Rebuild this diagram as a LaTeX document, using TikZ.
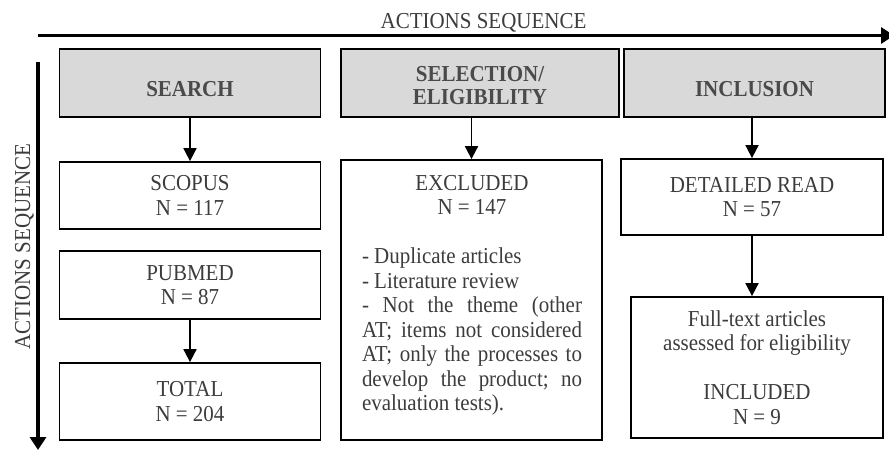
\documentclass[tikz,border=0pt]{standalone}
\usepackage{fontspec}
\setmainfont{Liberation Serif}[FakeStretch=0.92]
\usetikzlibrary{arrows.meta}
\definecolor{txt}{HTML}{3C3C3C}
\definecolor{hdrtxt}{HTML}{4A4A4A}
\definecolor{hdrfill}{HTML}{D9D9D9}
\begin{document}
\begin{tikzpicture}[x=1pt,y=-1pt,
  box/.style={draw=black, line width=1.8pt, inner sep=0pt, text=txt, align=center,
    font=\fontsize{22.8}{24.5}\selectfont},
  hdr/.style={draw=black, line width=1.8pt, fill=hdrfill, inner sep=0pt, minimum height=68pt},
  hdrlabel/.style={text=hdrtxt, align=center, inner sep=0pt, font=\fontsize{22.8}{23}\selectfont\bfseries},
  plain/.style={text=txt, inner sep=0pt, font=\fontsize{22.8}{24}\selectfont},
  flow/.style={-{Triangle[width=13pt,length=13pt]}, line width=1.8pt},
  axis/.style={-{Triangle[width=16pt,length=13pt]}, line width=3.5pt}]
\useasboundingbox (0,0) rectangle (889,451);

% axes
\coordinate (hstart) at (38,35.5);
\coordinate (hend) at (894,35.5);
\coordinate (vstart) at (38,62);
\coordinate (vend) at (38,450);
\draw[axis] (hstart) -- (hend);
\draw[axis] (vstart) -- (vend);
\node[plain, anchor=base] (htitle) at (483.5,28) {ACTIONS SEQUENCE};
\node[plain, rotate=90, anchor=base] (vtitle) at (30,246.5) {ACTIONS SEQUENCE};

% headers
\node[hdr, minimum width=261pt] (search) at (190,83) {};
\node[hdr, minimum width=278pt] (sel) at (480,83) {};
\node[hdr, minimum width=261pt] (incl) at (754.5,83) {};
\node[hdrlabel, anchor=base] (searchtxt) at (190,96) {SEARCH};
\node[hdrlabel] (seltxt) at (480,86) {SELECTION/\\ELIGIBILITY};
\node[hdrlabel, anchor=base] (incltxt) at (754.5,96) {INCLUSION};

% search column
\node[box, minimum width=261pt, minimum height=67pt] (scopus) at (190,195.5) {SCOPUS\\N = 117};
\node[box, minimum width=261pt, minimum height=68pt] (pubmed) at (190,285) {PUBMED\\N = 87};
\node[box, minimum width=261pt, minimum height=77pt] (total) at (190,401.5) {TOTAL\\N = 204};

% selection column
\node[box, minimum width=261pt, minimum height=280pt] (excl) at (471.5,300) {};
\node[text=txt, inner sep=0pt, align=center, anchor=north,
  font=\fontsize{22.8}{24.5}\selectfont] (excltxt) at (472,175)
  {\makebox[220pt]{EXCLUDED}\\\makebox[220pt]{N = 147}\\[24.5pt]
   \makebox[220pt][l]{- Duplicate articles}\\
   \makebox[220pt][l]{- Literature review}\\
   \makebox[220pt]{-\hfill Not\hfill the\hfill theme\hfill (other}\\
   \makebox[220pt]{AT;\hfill items\hfill not\hfill considered}\\
   \makebox[220pt]{AT;\hfill only\hfill the\hfill processes\hfill to}\\
   \makebox[220pt]{develop\hfill the\hfill product;\hfill no}\\
   \makebox[220pt][l]{evaluation tests).}};

% inclusion column
\node[box, minimum width=262pt, minimum height=76pt] (det) at (752,197) {DETAILED READ\\N = 57};
\node[box, minimum width=252pt, minimum height=141pt] (full) at (757,367.5)
  {Full-text articles\\assessed for eligibility\\[24.5pt]INCLUDED\\N = 9};

% connectors
\draw[flow] (search.south) -- (scopus.north);
\draw[flow] (pubmed.south) -- (total.north);
\draw[flow] (excl.north |- sel.south) -- (excl.north);
\draw[flow] (det.north |- incl.south) -- (det.north);
\draw[flow] (det.south) -- (det.south |- full.north);
\end{tikzpicture}
\end{document}
